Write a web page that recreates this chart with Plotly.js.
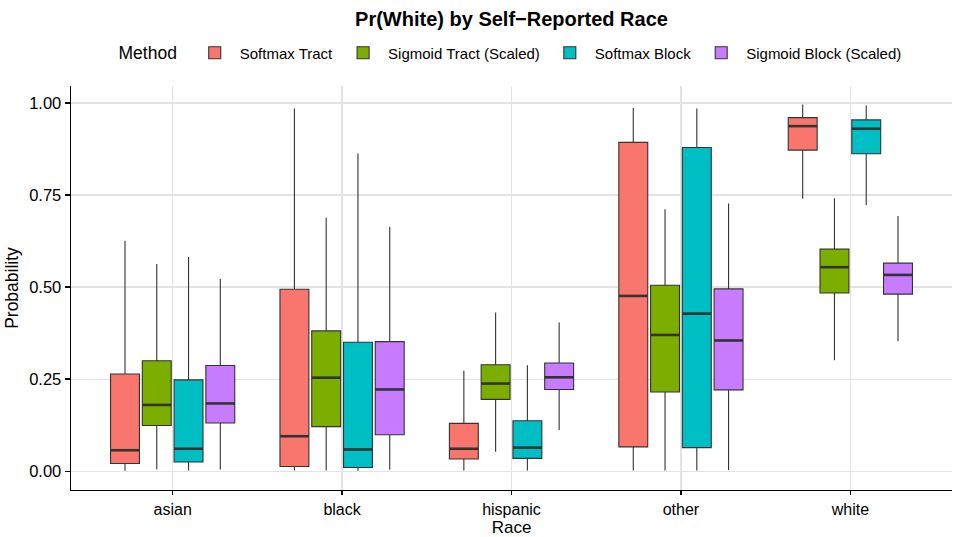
<!DOCTYPE html>
<html>
<head>
<meta charset="utf-8">
<script src="https://cdn.plot.ly/plotly-3.0.1.min.js"></script>
<style>html,body{margin:0;padding:0;background:#fff;} #chart{width:956px;height:537px;}</style>
</head>
<body>
<div id="chart"></div>
<script>
// Categories and methods
const races = ["asian", "black", "hispanic", "other", "white"];
const methods = ["Softmax Tract", "Sigmoid Tract (Scaled)", "Softmax Block", "Sigmoid Block (Scaled)"];
const colors = ["#F8766D", "#7CAE00", "#00BFC4", "#C77CFF"];

// Box statistics per method (order of races)
const softmaxTractLower  = [0.001, 0.002, 0.002, 0.002, 0.740];
const softmaxTractQ1     = [0.021, 0.013, 0.033, 0.066, 0.872];
const softmaxTractMedian = [0.057, 0.095, 0.061, 0.476, 0.937];
const softmaxTractQ3     = [0.264, 0.494, 0.130, 0.893, 0.960];
const softmaxTractUpper  = [0.626, 0.985, 0.273, 0.986, 0.996];

const sigmoidTractLower  = [0.005, 0.002, 0.053, 0.002, 0.301];
const sigmoidTractQ1     = [0.124, 0.121, 0.195, 0.215, 0.484];
const sigmoidTractMedian = [0.180, 0.254, 0.238, 0.370, 0.554];
const sigmoidTractQ3     = [0.300, 0.381, 0.289, 0.505, 0.603];
const sigmoidTractUpper  = [0.563, 0.688, 0.431, 0.711, 0.741];

const softmaxBlockLower  = [0.002, 0.001, 0.002, 0.002, 0.723];
const softmaxBlockQ1     = [0.025, 0.010, 0.035, 0.064, 0.862];
const softmaxBlockMedian = [0.061, 0.059, 0.064, 0.428, 0.930];
const softmaxBlockQ3     = [0.248, 0.350, 0.137, 0.879, 0.954];
const softmaxBlockUpper  = [0.582, 0.863, 0.288, 0.985, 0.993];

const sigmoidBlockLower  = [0.005, 0.004, 0.112, 0.003, 0.353];
const sigmoidBlockQ1     = [0.131, 0.099, 0.222, 0.221, 0.481];
const sigmoidBlockMedian = [0.184, 0.222, 0.255, 0.355, 0.533];
const sigmoidBlockQ3     = [0.287, 0.352, 0.294, 0.495, 0.565];
const sigmoidBlockUpper  = [0.522, 0.664, 0.404, 0.727, 0.693];

const yTicks = [0, 0.25, 0.5, 0.75, 1.0];
const yTickLabels = ["0.00", "0.25", "0.50", "0.75", "1.00"];

const stats = [
  [softmaxTractLower, softmaxTractQ1, softmaxTractMedian, softmaxTractQ3, softmaxTractUpper],
  [sigmoidTractLower, sigmoidTractQ1, sigmoidTractMedian, sigmoidTractQ3, sigmoidTractUpper],
  [softmaxBlockLower, softmaxBlockQ1, softmaxBlockMedian, softmaxBlockQ3, softmaxBlockUpper],
  [sigmoidBlockLower, sigmoidBlockQ1, sigmoidBlockMedian, sigmoidBlockQ3, sigmoidBlockUpper]
];

const dodge = 0.75;
const slot = dodge / methods.length;
const boxW = slot * 0.91;
const outline = "#333333";

const traces = [];
const medX = [], medY = [];
methods.forEach((m, k) => {
  const off = -dodge / 2 + slot * (k + 0.5);
  const xs = races.map((r, i) => i + off);
  const s = stats[k];
  traces.push({
    type: "box",
    name: m,
    x: xs,
    lowerfence: s[0], q1: s[1], median: s[2], q3: s[3], upperfence: s[4],
    width: boxW,
    whiskerwidth: 0,
    fillcolor: colors[k],
    line: {color: outline, width: 1.1},
    marker: {color: colors[k]},
    boxpoints: false,
    hoverinfo: "skip"
  });
  xs.forEach((x, i) => {
    medX.push(x - boxW / 2, x + boxW / 2, null);
    medY.push(s[2][i], s[2][i], null);
  });
});
traces.push({
  type: "scatter", mode: "lines", x: medX, y: medY,
  line: {color: outline, width: 2.6}, showlegend: false, hoverinfo: "skip"
});

const font = {family: "Liberation Sans, Arial, Helvetica, sans-serif", color: "#000"};

const layout = {
  width: 956, height: 537,
  margin: {l: 71, r: 4, t: 86, b: 47},
  paper_bgcolor: "#fff", plot_bgcolor: "#fff",
  font: Object.assign({size: 15}, font),
  showlegend: true,
  boxmode: "overlay",
  title: {
    text: "<b>Pr(White) by Self\u2212Reported Race</b>",
    font: Object.assign({size: 20}, font),
    x: 0.5, xref: "paper", xanchor: "center",
    y: 1 - 19 / 537, yref: "container", yanchor: "middle"
  },
  legend: {
    orientation: "h",
    x: 0.5, xanchor: "center", xref: "paper",
    y: 1 + 33 / 404, yanchor: "middle",
    title: {text: "Method ", side: "left", font: Object.assign({size: 17.5}, font)},
    font: Object.assign({size: 15}, font),
    itemwidth: 40,
    traceorder: "normal"
  },
  xaxis: {
    range: [-0.6, 4.6],
    tickvals: races.map((r, i) => i),
    ticktext: races,
    showgrid: true, gridcolor: "#e3e3e3", gridwidth: 1.2,
    zeroline: false,
    showline: true, linecolor: "#000", linewidth: 1.4,
    ticks: "outside", ticklen: 4, tickwidth: 1.4, tickcolor: "#000",
    tickfont: Object.assign({size: 16}, font),
    title: {text: "Race", font: Object.assign({size: 17}, font), standoff: 4}
  },
  yaxis: {
    range: [-0.051, 1.046],
    tickvals: yTicks, ticktext: yTickLabels,
    showgrid: true, gridcolor: "#e3e3e3", gridwidth: 1.2,
    zeroline: false,
    showline: true, linecolor: "#000", linewidth: 1.4,
    ticks: "outside", ticklen: 5, tickwidth: 1.4, tickcolor: "#000",
    tickfont: Object.assign({size: 16.5}, font),
    title: {text: "Probability", font: Object.assign({size: 17.5}, font), standoff: 6}
  }
};

Plotly.newPlot("chart", traces, layout, {displayModeBar: false, staticPlot: true});
</script>
</body>
</html>
